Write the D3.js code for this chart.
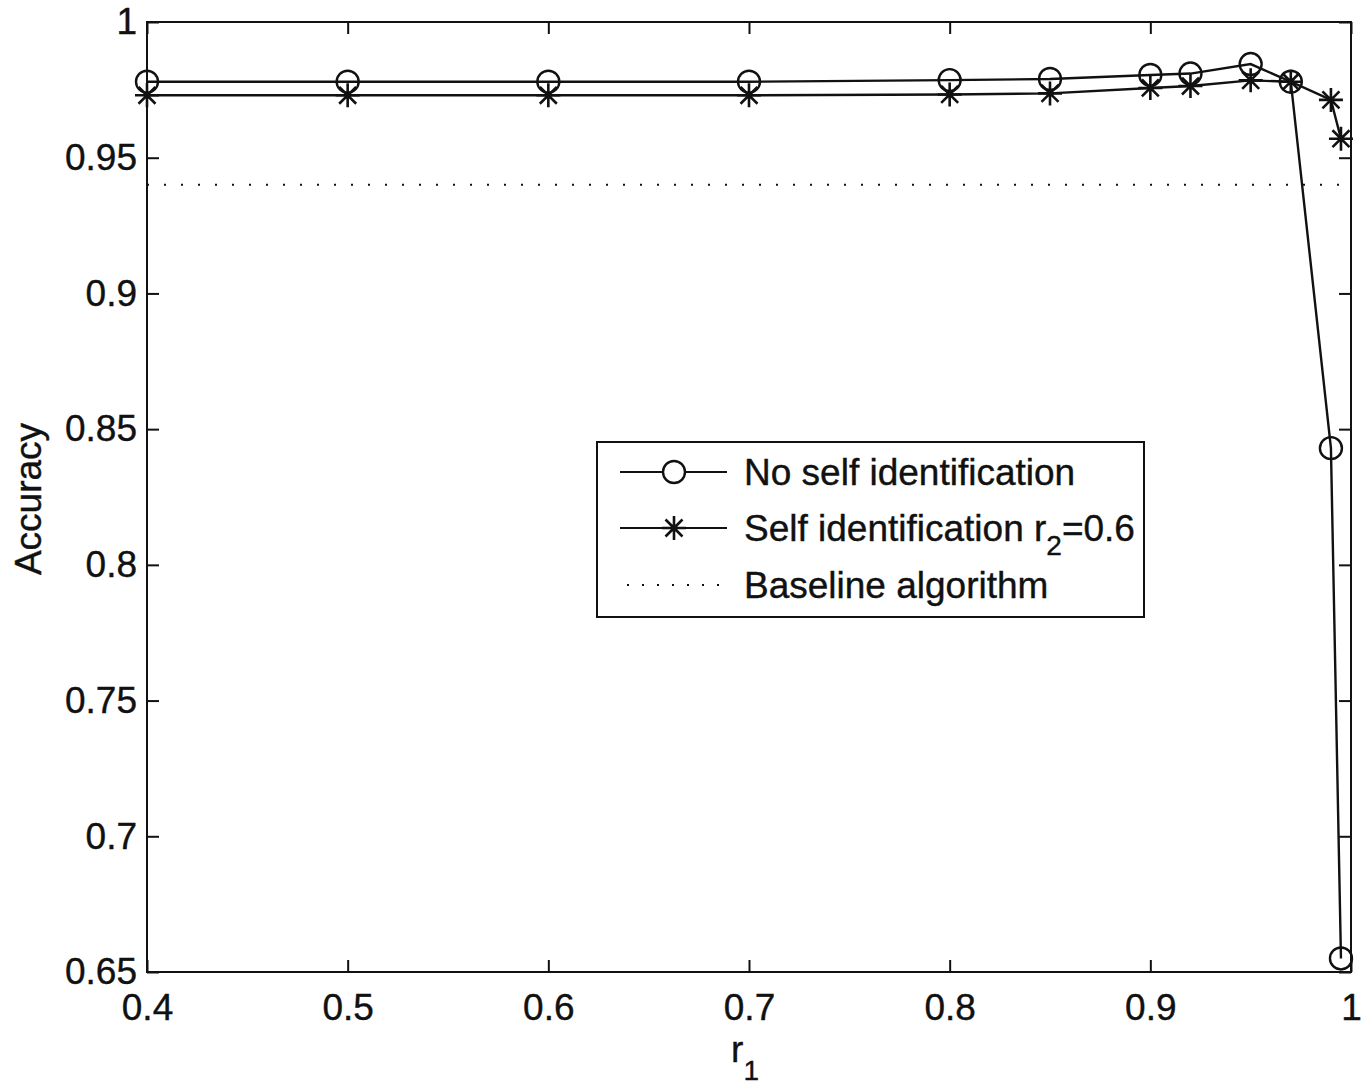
<!DOCTYPE html>
<html lang="en">
<head>
<meta charset="UTF-8">
<title>Accuracy vs r1</title>
<script src="https://d3js.org/d3.v7.min.js"></script>
<style>
    body { margin: 0; background: #fff; }
    text { font-family: "Liberation Sans", Arial, sans-serif; fill: #111; stroke: #111; stroke-width: 0.4px; }
    .frame { fill: none; stroke: #111; stroke-width: 2px; }
</style>
</head>
<body>
<svg width="1371" height="1085"></svg>
<script>
const r1 = [0.4, 0.5, 0.6, 0.7, 0.8, 0.85, 0.9, 0.92, 0.95, 0.97, 0.99, 0.995];
const noSelf = [0.978, 0.978, 0.978, 0.978, 0.9786, 0.979, 0.9805, 0.981, 0.9845, 0.978, 0.843, 0.655];
const selfId = [0.973, 0.973, 0.973, 0.973, 0.9733, 0.9737, 0.9757, 0.9764, 0.9785, 0.978, 0.9713, 0.957];
const baseline = 0.94;
const xTicks = [0.4, 0.5, 0.6, 0.7, 0.8, 0.9, 1];
const yTicks = [0.65, 0.7, 0.75, 0.8, 0.85, 0.9, 0.95, 1];
const legendLabels = ["No self identification", "Self identification r", "Baseline algorithm"];

const svg = d3.select("svg");
const m = {left: 147, top: 22, right: 20, bottom: 113};
const W = 1371 - m.left - m.right, H = 1085 - m.top - m.bottom;
const fs = "37px";

const x = d3.scaleLinear().domain([0.4, 1]).range([0, W]);
const y = d3.scaleLinear().domain([0.65, 1]).range([H, 0]);

const g = svg.append("g").attr("transform", `translate(${m.left},${m.top})`);

// axes with inward ticks on all four sides
const tickLen = 12;
function styleAxis(sel) {
    sel.select(".domain").remove();
    sel.selectAll(".tick line").attr("stroke", "#111").attr("stroke-width", 2);
    sel.selectAll("text").style("font-size", fs).attr("fill", "#111");
}
g.append("g").attr("transform", `translate(0,${H})`)
    .call(d3.axisBottom(x).tickValues(xTicks).tickSize(-tickLen).tickPadding(22).tickFormat(d3.format("")))
    .call(styleAxis);
g.append("g")
    .call(d3.axisTop(x).tickValues(xTicks).tickSize(-tickLen).tickFormat(""))
    .call(styleAxis);
g.append("g")
    .call(d3.axisLeft(y).tickValues(yTicks).tickSize(-tickLen).tickPadding(10).tickFormat(d3.format("")))
    .call(styleAxis);
g.append("g").attr("transform", `translate(${W},0)`)
    .call(d3.axisRight(y).tickValues(yTicks).tickSize(-tickLen).tickFormat(""))
    .call(styleAxis);

g.append("rect").attr("class", "frame").attr("width", W).attr("height", H);

// baseline
g.append("line")
    .attr("x1", 0).attr("x2", W)
    .attr("y1", y(baseline)).attr("y2", y(baseline))
    .attr("stroke", "#111").attr("stroke-width", 2).attr("stroke-dasharray", "2,15");

const line = d3.line().x(d => x(d[0])).y(d => y(d[1]));
const starPath = s => {
    const d = s * 0.707;
    return `M${-s},0L${s},0M0,${-s}L0,${s}M${-d},${-d}L${d},${d}M${-d},${d}L${d},${-d}`;
};

const seriesA = r1.map((v, i) => [v, noSelf[i]]);
const seriesB = r1.map((v, i) => [v, selfId[i]]);

g.append("path").datum(seriesB).attr("d", line)
    .attr("fill", "none").attr("stroke", "#111").attr("stroke-width", 2.4);
g.append("path").datum(seriesA).attr("d", line)
    .attr("fill", "none").attr("stroke", "#111").attr("stroke-width", 2.4);

g.selectAll(".star").data(seriesB).join("path")
    .attr("class", "star")
    .attr("transform", d => `translate(${x(d[0])},${y(d[1])})`)
    .attr("d", starPath(12))
    .attr("stroke", "#111").attr("stroke-width", 2.6).attr("fill", "none");

g.selectAll(".circ").data(seriesA).join("circle")
    .attr("class", "circ")
    .attr("cx", d => x(d[0])).attr("cy", d => y(d[1])).attr("r", 11)
    .attr("fill", "none").attr("stroke", "#111").attr("stroke-width", 2.4);

// axis labels
svg.append("text")
    .attr("transform", `translate(41,${m.top + H / 2 + 2}) rotate(-90)`)
    .attr("text-anchor", "middle").style("font-size", fs).text("Accuracy");
const xl = svg.append("text")
    .attr("x", m.left + W / 2 - 4).attr("y", 1062)
    .attr("text-anchor", "middle").style("font-size", fs);
xl.append("tspan").text("r");
xl.append("tspan").attr("dy", 18).style("font-size", "28px").text("1");

// legend
const lg = svg.append("g").attr("transform", "translate(597,442)");
lg.append("rect").attr("width", 547).attr("height", 175)
    .attr("fill", "#fff").attr("stroke", "#111").attr("stroke-width", 2);
const rowsY = [30, 86, 143];
legendLabels.forEach((lab, i) => {
    const yy = rowsY[i];
    const ln = lg.append("line").attr("x1", 23).attr("x2", 130).attr("y1", yy).attr("y2", yy)
        .attr("stroke", "#111").attr("stroke-width", 2.2);
    if (i === 2) ln.attr("stroke-dasharray", "2,13").attr("x1", 30);
    if (i === 0) lg.append("circle").attr("cx", 77).attr("cy", yy).attr("r", 11)
        .attr("fill", "#fff").attr("stroke", "#111").attr("stroke-width", 2.4);
    if (i === 1) lg.append("path").attr("transform", `translate(77,${yy})`).attr("d", starPath(12))
        .attr("stroke", "#111").attr("stroke-width", 2.6);
    const t = lg.append("text").attr("x", 147).attr("y", yy + 13).style("font-size", fs);
    t.append("tspan").text(lab);
    if (i === 1) {
        t.append("tspan").attr("dy", 14).style("font-size", "28px").text("2");
        t.append("tspan").attr("dy", -14).text("=0.6");
    }
});
</script>
</body>
</html>
